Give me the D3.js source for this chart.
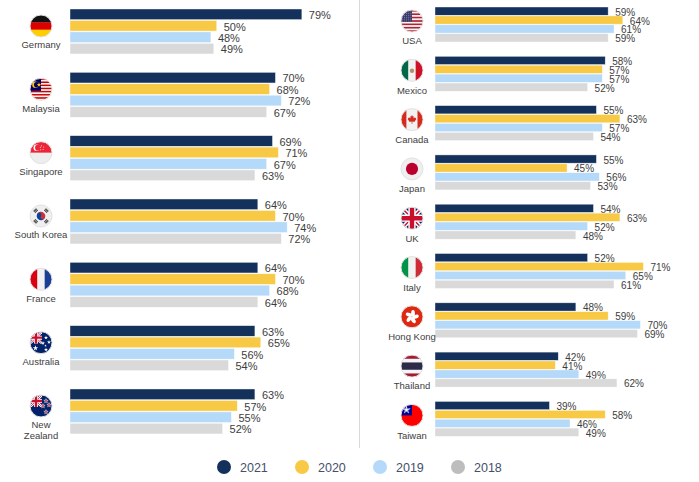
<!DOCTYPE html>
<html>
<head>
<meta charset="utf-8">
<script src="https://cdn.jsdelivr.net/npm/d3@7"></script>
<style>
  body { margin: 0; background: #fff; }
  svg { display: block; font-family: "Liberation Sans", Arial, sans-serif; }
</style>
</head>
<body>
<svg width="699" height="482"></svg>
<script>
var years = ["2021", "2020", "2019", "2018"];

var leftCountries = ["Germany", "Malaysia", "Singapore", "South Korea", "France", "Australia", "New Zealand"];
var leftValues = [
  [79, 50, 48, 49],
  [70, 68, 72, 67],
  [69, 71, 67, 63],
  [64, 70, 74, 72],
  [64, 70, 68, 64],
  [63, 65, 56, 54],
  [63, 57, 55, 52]
];

var rightCountries = ["USA", "Mexico", "Canada", "Japan", "UK", "Italy", "Hong Kong", "Thailand", "Taiwan"];
var rightValues = [
  [59, 64, 61, 59],
  [58, 57, 57, 52],
  [55, 63, 57, 54],
  [55, 45, 56, 53],
  [54, 63, 52, 48],
  [52, 71, 65, 61],
  [48, 59, 70, 69],
  [42, 41, 49, 62],
  [39, 58, 46, 49]
];

var barColors = ["#14315b", "#f7c945", "#b5d9f8", "#d9d9d9"];
var legendColors = ["#14315b", "#f7c945", "#b5d9f8", "#bdbdbd"];
var wrapped = {"New Zealand": ["New", "Zealand"]};

var svg = d3.select("svg");
var defs = svg.append("defs");

var x = d3.scaleLinear().domain([0, 100]).range([0, 293.5]);
var color = d3.scaleOrdinal().domain(years).range(barColors);

// divider between the two panels
svg.append("line")
    .attr("x1", 359.5).attr("x2", 359.5)
    .attr("y1", 0).attr("y2", 448)
    .attr("stroke", "#d9d9d9");

// ---- flag helpers ----
var clipId = 0;
function clip(g, shape, attrs) {
  var id = "clip" + (clipId++);
  var c = defs.append("clipPath").attr("id", id).append(shape);
  for (var k in attrs) c.attr(k, attrs[k]);
  return g.append("g").attr("clip-path", "url(#" + id + ")");
}
function rect(g, x0, y0, w, h, fill) {
  return g.append("rect").attr("x", x0).attr("y", y0).attr("width", w).attr("height", h).attr("fill", fill);
}
function circ(g, cx, cy, r, fill) {
  return g.append("circle").attr("cx", cx).attr("cy", cy).attr("r", r).attr("fill", fill);
}
function line(g, l, stroke, w) {
  return g.append("line").attr("x1", l[0]).attr("y1", l[1]).attr("x2", l[2]).attr("y2", l[3])
    .attr("stroke", stroke).attr("stroke-width", w);
}
function star(g, cx, cy, size, fill, stroke) {
  return g.append("path")
    .attr("d", d3.symbol().type(d3.symbolStar).size(size)())
    .attr("transform", "translate(" + cx + "," + cy + ")")
    .attr("fill", fill)
    .attr("stroke", stroke || "none").attr("stroke-width", 0.5);
}
function hStripes(g, r, fills, weights) {
  var total = d3.sum(weights), y0 = -r;
  fills.forEach(function(f, i) {
    var h = 2 * r * weights[i] / total;
    rect(g, -r, y0, 2 * r, h + 0.3, f);
    y0 += h;
  });
}
function vStripes(g, r, fills, weights) {
  var total = d3.sum(weights), x0 = -r;
  fills.forEach(function(f, i) {
    var w = 2 * r * weights[i] / total;
    rect(g, x0, -r, w + 0.3, 2 * r, f);
    x0 += w;
  });
}
function unionJack(g, x0, y0, w, h) {
  var u = clip(g, "rect", {x: x0, y: y0, width: w, height: h});
  rect(u, x0, y0, w, h, "#012169");
  var s = h / 30;
  [[x0, y0, x0 + w, y0 + h], [x0 + w, y0, x0, y0 + h]].forEach(function(l) {
    line(u, l, "#fff", 6 * s);
    line(u, l, "#c8102e", 2 * s);
  });
  var v = [x0 + w / 2, y0, x0 + w / 2, y0 + h], hz = [x0, y0 + h / 2, x0 + w, y0 + h / 2];
  line(u, v, "#fff", 10 * s); line(u, hz, "#fff", 10 * s);
  line(u, v, "#c8102e", 6 * s); line(u, hz, "#c8102e", 6 * s);
}

var leaf = [[0,-1],[0.18,-0.65],[0.38,-0.75],[0.3,-0.25],[0.55,-0.5],[0.62,-0.35],[0.9,-0.42],
            [0.8,-0.1],[0.95,0],[0.55,0.35],[0.6,0.5],[0.08,0.42],[0.08,0.9]];

var flags = {
  "Germany": function(g, r) { hStripes(g, r, ["#111", "#dd0000", "#ffce00"], [1, 1, 1]); },
  "Malaysia": function(g, r) {
    var h = 2 * r / 14;
    for (var i = 0; i < 14; i++) rect(g, -r, -r + i * h, 2 * r, h + 0.2, i % 2 ? "#f2f2f2" : "#cc0001");
    rect(g, -r, -r, r, 8 * h, "#010066");
    circ(g, -r * 0.5, -r * 0.42, 3.3, "#ffcc00");
    circ(g, -r * 0.5 + 1.3, -r * 0.42, 2.8, "#010066");
    star(g, -2, -r * 0.42, 7, "#ffcc00");
  },
  "Singapore": function(g, r) {
    hStripes(g, r, ["#ee2536", "#eeeeee"], [1, 1]);
    circ(g, -4.3, -5, 3.2, "#fff");
    circ(g, -3.1, -5, 2.8, "#ee2536");
    [[-1, -7.2], [1.2, -6], [0.6, -3.6], [-1.8, -3.3], [-2.2, -5.8]].forEach(function(p) {
      circ(g, p[0] + 1.5, p[1] + 0.4, 0.5, "#fff");
    });
  },
  "South Korea": function(g, r) {
    rect(g, -r, -r, 2 * r, 2 * r, "#efefef");
    var t = g.append("g").attr("transform", "rotate(33)"), a = 4.3;
    t.append("path").attr("d", "M" + (-a) + ",0A" + a + "," + a + " 0 0 1 " + a + ",0Z").attr("fill", "#cd2e3a");
    t.append("path").attr("d", "M" + (-a) + ",0A" + a + "," + a + " 0 0 0 " + a + ",0Z").attr("fill", "#0047a0");
    circ(t, -a / 2, 0, a / 2, "#0047a0");
    circ(t, a / 2, 0, a / 2, "#cd2e3a");
    [45, 135, 225, 315].forEach(function(ang) {
      var tg = g.append("g").attr("transform", "rotate(" + ang + ") translate(0,-7.6)");
      for (var k = 0; k < 3; k++) rect(tg, -2, -1.4 + k * 1.1, 4, 0.7, "#222");
    });
  },
  "France": function(g, r) { vStripes(g, r, ["#d90012", "#f2f2f2", "#1b3f94"], [1, 1, 1]); },
  "Australia": function(g, r) {
    rect(g, -r, -r, 2 * r, 2 * r, "#012169");
    unionJack(g, -r, -r, r + 1, r + 1);
    star(g, -5.5, 5.5, 9, "#fff");
    [[5, -5], [2, 0.5], [8, -0.5], [5, 7], [4.5, 3]].forEach(function(p, i) {
      star(g, p[0], p[1], i === 4 ? 2 : 5, "#fff");
    });
  },
  "New Zealand": function(g, r) {
    rect(g, -r, -r, 2 * r, 2 * r, "#012169");
    unionJack(g, -r, -r, r + 1, r + 1);
    [[5, -5], [2, 0], [8, -1], [5, 6]].forEach(function(p) {
      star(g, p[0], p[1], 6, "#c8102e", "#fff");
    });
  },
  "USA": function(g, r) {
    var h = 2 * r / 13;
    for (var i = 0; i < 13; i++) rect(g, -r, -r + i * h, 2 * r, h + 0.2, i % 2 ? "#f2f2f2" : "#b22234");
    rect(g, -r, -r, r, 7 * h, "#3c3b6e");
    for (var cx = -r + 1.5; cx < -0.5; cx += 2.1)
      for (var cy = -r + 1.5; cy < 7 * h - r - 0.5; cy += 1.9) circ(g, cx, cy, 0.35, "#fff");
  },
  "Mexico": function(g, r) {
    vStripes(g, r, ["#006847", "#f2f2f2", "#ce1126"], [1, 1, 1]);
    circ(g, 0, 0.5, 2.2, "#9a7b45").attr("opacity", 0.8);
  },
  "Canada": function(g, r) {
    vStripes(g, r, ["#d52b1e", "#f2f2f2", "#d52b1e"], [1, 2, 1]);
    var s = r * 0.42;
    var pts = leaf.concat(leaf.slice().reverse().map(function(p) { return [-p[0], p[1]]; }));
    g.append("path")
      .attr("d", d3.line()(pts.map(function(p) { return [p[0] * s, p[1] * s]; })) + "Z")
      .attr("fill", "#d52b1e");
  },
  "Japan": function(g, r) {
    rect(g, -r, -r, 2 * r, 2 * r, "#efefef");
    circ(g, 0, 0, r * 0.55, "#bc002d");
  },
  "UK": function(g, r) { unionJack(g, -r, -r, 2 * r, 2 * r); },
  "Italy": function(g, r) { vStripes(g, r, ["#009246", "#f2f2f2", "#ce2b37"], [1, 1, 1]); },
  "Hong Kong": function(g, r) {
    rect(g, -r, -r, 2 * r, 2 * r, "#de2910");
    for (var i = 0; i < 5; i++) {
      g.append("ellipse").attr("cx", 1).attr("cy", -3.4).attr("rx", 1.9).attr("ry", 3.4)
        .attr("transform", "rotate(" + (i * 72) + ")").attr("fill", "#fff");
    }
  },
  "Thailand": function(g, r) {
    hStripes(g, r, ["#a51931", "#f4f5f8", "#2d2a4a", "#f4f5f8", "#a51931"], [1, 1, 2, 1, 1]);
  },
  "Taiwan": function(g, r) {
    rect(g, -r, -r, 2 * r, 2 * r, "#fe0000");
    rect(g, -r, -r, r, r, "#000095");
    star(g, -r / 2, -r / 2, 22, "#fff");
    circ(g, -r / 2, -r / 2, 1.8, "#fff").attr("stroke", "#000095").attr("stroke-width", 0.4);
  }
};

// ---- panels ----
function panel(countries, values, opt) {
  var n = countries.length;
  var y = d3.scaleBand()
      .domain(countries)
      .range([opt.top, opt.top + opt.step * (n - 0.29)])
      .paddingInner(0.29)
      .paddingOuter(0);
  var yy = d3.scaleBand().domain(years).range([0, y.bandwidth()]).paddingInner(0.07);

  var groups = svg.append("g").selectAll("g")
    .data(countries.map(function(c, i) { return {country: c, values: values[i]}; }))
    .enter().append("g")
      .attr("transform", function(d) { return "translate(0," + y(d.country) + ")"; });

  var bars = groups.selectAll("g.bar")
    .data(function(d) { return d.values.map(function(v, j) { return {year: years[j], value: v}; }); })
    .enter().append("g").attr("class", "bar");

  bars.append("rect")
      .attr("x", opt.x0)
      .attr("y", function(d) { return yy(d.year); })
      .attr("width", function(d) { return x(d.value); })
      .attr("height", yy.bandwidth())
      .attr("fill", function(d) { return color(d.year); })
      .attr("stroke", "rgba(255,255,255,0.7)")
      .attr("stroke-width", 0.6);

  bars.append("text")
      .attr("x", function(d) { return opt.x0 + x(d.value) + 7; })
      .attr("y", function(d) { return yy(d.year) + yy.bandwidth() / 2 + 1; })
      .attr("dy", "0.35em")
      .attr("font-size", opt.valueSize)
      .attr("fill", "#3d3d3d")
      .text(function(d) { return d.value + "%"; });

  // flag icons
  groups.each(function(d) {
    var g = d3.select(this).append("g")
        .attr("transform", "translate(" + opt.flagX + "," + opt.flagDy + ")");
    var r = 11;
    var inner = clip(g, "circle", {cx: 0, cy: 0, r: r});
    flags[d.country](inner, r);
    g.append("circle").attr("r", r).attr("fill", "none").attr("stroke", "#e2e2e2").attr("stroke-width", 1);
  });

  // country names
  groups.append("text")
      .attr("x", opt.flagX)
      .attr("y", opt.labelDy)
      .attr("text-anchor", "middle")
      .attr("font-size", 9.5)
      .attr("fill", "#404040")
    .selectAll("tspan")
    .data(function(d) { return wrapped[d.country] || [d.country]; })
    .enter().append("tspan")
      .attr("x", opt.flagX)
      .attr("dy", function(t, i) { return i ? "1.1em" : "0.35em"; })
      .text(function(t) { return t; });
}

panel(leftCountries, leftValues, {x0: 70, top: 9, step: 63.33, flagX: 41, flagDy: 17, labelDy: 36, valueSize: 11});
panel(rightCountries, rightValues, {x0: 435, top: 7, step: 49.3, flagX: 412, flagDy: 14, labelDy: 34, valueSize: 10});

// ---- legend ----
var legend = svg.append("g").attr("transform", "translate(0,467)");
var lx = d3.scalePoint().domain(years).range([224, 458]);
var item = legend.selectAll("g")
  .data(years)
  .enter().append("g")
    .attr("transform", function(d) { return "translate(" + lx(d) + ",0)"; });
item.append("circle")
    .attr("r", 7)
    .attr("fill", function(d, i) { return legendColors[i]; });
item.append("text")
    .attr("x", 16)
    .attr("dy", "0.36em")
    .attr("font-size", 12.5)
    .attr("fill", "#44506a")
    .text(function(d) { return d; });
</script>
</body>
</html>
